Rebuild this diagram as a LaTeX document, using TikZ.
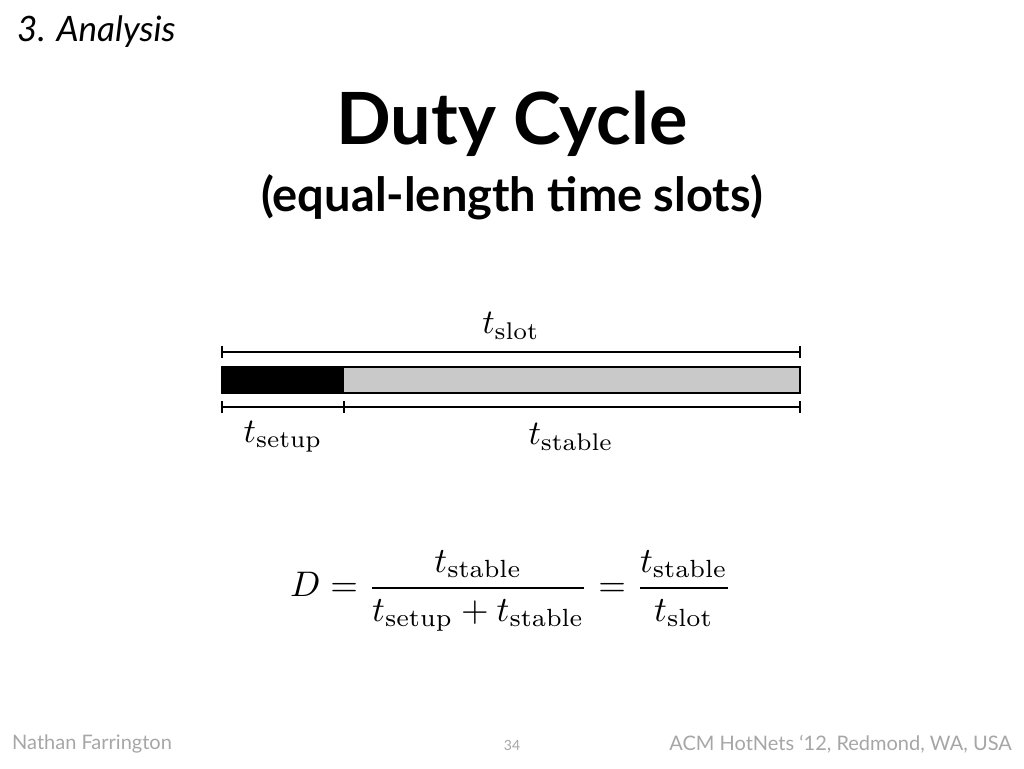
\documentclass[tikz,border=0pt]{standalone}
\usepackage{amsmath}
\usepackage{fontspec}
\newfontfamily\slidefont{Lato}
\newfontfamily\footfont{Lato}
\begin{document}
\begin{tikzpicture}[x=1pt,y=-1pt,
  dimline/.style={line width=2.6pt},
  tick/.style={line width=2.4pt},
  barpart/.style={draw=black,line width=1.5pt},
  mathlbl/.style={inner sep=0pt,scale=3.45},
  foot/.style={text=black!35,font=\footfont\fontsize{20}{24}\selectfont,inner sep=0pt}]
\useasboundingbox (0,0) rectangle (1024,768);
% header
\node[anchor=west,inner sep=0pt] (sec) at (17,32) {\slidefont\fontsize{35}{40}\selectfont\itshape 3. Analysis};
\node[inner sep=0pt] (title) at (512,124) {\slidefont\fontsize{72}{80}\selectfont\bfseries Duty Cycle};
\node[inner sep=0pt] (sub) at (512,197) {\slidefont\fontsize{47}{54}\selectfont\bfseries (equal-length time slots)};
% bar
\coordinate (a) at (222,367);
\coordinate (b) at (344,393);
\coordinate (c) at (800,367);
\fill[black!21] (344,367) rectangle (800,393);
\fill[black] (a) rectangle (b);
\draw[barpart] (222,367) rectangle (800,393);
% top dimension
\coordinate (t1) at (222,352);
\coordinate (t2) at (800,352);
\draw[dimline] (t1) -- (t2);
\draw[tick] ([yshift=-6pt]t1) -- ([yshift=6pt]t1);
\draw[tick] ([yshift=-6pt]t2) -- ([yshift=6pt]t2);
% bottom dimension
\coordinate (b1) at (222,407);
\coordinate (b2) at (344,407);
\coordinate (b3) at (800,407);
\draw[dimline] (b1) -- (b3);
\foreach \p in {b1,b2,b3} \draw[tick] ([yshift=-6pt]\p) -- ([yshift=6pt]\p);
% labels
\node[mathlbl] (lslot) at (511,326) {$t_{\mathrm{slot}}$};
\node[mathlbl] (lsetup) at (283,437) {$t_{\mathrm{setup}}$};
\node[mathlbl] (lstable) at (571,437) {$t_{\mathrm{stable}}$};
% formula
\node[mathlbl,scale=1.03] (eq) at (511,591) {$D=\dfrac{t_{\mathrm{stable}}}{t_{\mathrm{setup}}+t_{\mathrm{stable}}}=\dfrac{t_{\mathrm{stable}}}{t_{\mathrm{slot}}}$};
% footer
\node[foot,anchor=west] (author) at (12,744) {Nathan Farrington};
\node[foot,anchor=center,font=\footfont\fontsize{14}{16}\selectfont] (page) at (512,745) {34};
\node[foot,anchor=east] (venue) at (1012,744) {ACM HotNets ‘12, Redmond, WA, USA};
\end{tikzpicture}
\end{document}
